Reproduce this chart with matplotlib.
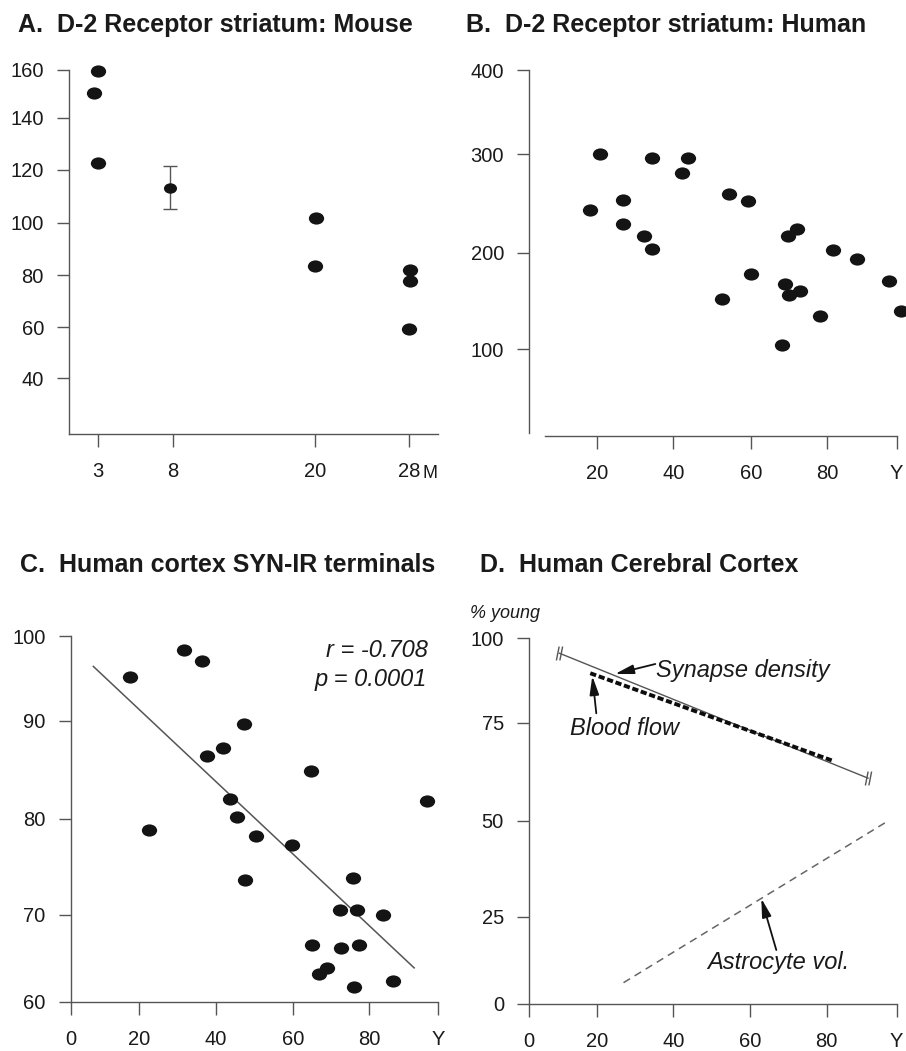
import numpy as np
import matplotlib
matplotlib.use("Agg")
import matplotlib.pyplot as plt
from matplotlib.path import Path
from matplotlib.transforms import Affine2D

plt.rcParams['font.family'] = ['Liberation Sans', 'DejaVu Sans']

# ---------------- data ----------------
# A. D-2 receptor, mouse striatum (age in months)
mouse_age = [3.0, 2.7, 3.0, 20.1, 20.0, 28.1, 28.1, 28.0]
mouse_binding = [159.4, 150.2, 122.6, 101.8, 83.6, 82.0, 77.8, 59.3]
mouse_mean_age = [7.8]
mouse_mean_binding = [113.2]
mouse_sem = [8.2]

# B. D-2 receptor, human striatum (age in years)
human_age = [18.2, 20.8, 26.9, 26.9, 32.3, 34.4, 34.4, 42.2, 43.7, 52.6, 54.4, 59.3,
             59.9, 68.1, 68.9, 69.8, 69.9, 72.1, 72.9, 78.2, 81.7, 88.6, 97.9, 101.2]
human_binding = [243.5, 300.0, 253.3, 228.9, 217.1, 295.9, 203.6, 281.3, 295.9, 151.8,
                 260.0, 252.9, 178.0, 104.0, 167.3, 217.1, 156.5, 223.9, 160.4, 134.4,
                 203.1, 193.3, 171.1, 139.6]

# C. Human cortex SYN-IR terminals
cortex_age = [17.3, 22.6, 31.7, 36.4, 37.7, 41.7, 43.7, 45.6, 47.2, 47.6, 50.4, 59.7,
              64.9, 65.0, 66.9, 68.9, 72.4, 72.5, 75.7, 76.9, 77.2, 75.9, 83.9, 86.8, 96.8]
cortex_syn = [95.1, 78.9, 98.3, 97.0, 86.4, 87.2, 82.0, 80.2, 89.6, 73.6, 78.2, 77.3,
              84.9, 66.5, 63.2, 63.9, 70.5, 66.2, 73.9, 70.5, 66.5, 61.7, 70.0, 62.4, 81.8]
cortex_fit_age = [6.6, 93.0]
cortex_fit_syn = [96.4, 63.9]
cortex_stats = ["r = -0.708", "p = 0.0001"]

# D. Human cerebral cortex (% young)
synapse_age = [9.0, 91.8]
synapse_pct = [95.5, 60.9]
blood_age = [18.1, 81.8]
blood_pct = [89.6, 65.3]
astro_age = [27.0, 97.5]
astro_pct = [6.0, 50.0]

# ticks
a_xticks = [3, 8, 20, 28]
a_xlabels = ['3', '8', '20', '28']
a_yticks = [40, 60, 80, 100, 120, 140, 160]
b_xticks = [20, 40, 60, 80, 100]
b_xlabels = ['20', '40', '60', '80', 'Y']
b_yticks = [100, 200, 300, 400]
c_xticks = [0, 20, 40, 60, 80, 100]
c_xlabels = ['0', '20', '40', '60', '80', 'Y']
c_yticks = [60, 70, 80, 90, 100]
d_xticks = [0, 20, 40, 60, 80, 100]
d_xlabels = ['0', '20', '40', '60', '80', 'Y']
d_yticks = [0, 25, 50, 75, 100]

# ---------------- layout (pixels) ----------------
W, H = 906, 1051
a_xpix = [98.3, 172.7, 315.0, 409.0]
a_ypix = [378.3, 327.3, 275.2, 222.5, 169.7, 117.5, 69.5]
b_xpix = [596.7, 673.3, 751.0, 827.3, 896.7]
b_ypix = [349.2, 252.8, 154.3, 70.3]
c_xpix = [70.7, 139.3, 216.0, 292.7, 369.3, 438.3]
c_ypix = [1001.7, 915.0, 819.0, 720.5, 636.0]
d_xpix = [529.0, 596.7, 673.3, 750.0, 826.7, 896.7]
d_ypix = [1003.5, 916.7, 821.0, 722.7, 638.0]

AXC = '#555555'
TXT = '#1a1a1a'
DOT = '#141414'

ellipse = Affine2D().scale(1.0, 0.8).transform_path(Path.unit_circle())
breakmark = Path([(-0.45, -1), (-0.05, 1), (0.05, -1), (0.45, 1)],
                 [Path.MOVETO, Path.LINETO, Path.MOVETO, Path.LINETO])


def piecewise(vals, pix):
    v = np.asarray(vals, float)
    p = np.asarray(pix, float)
    o = np.argsort(v)
    v, p = v[o], p[o]
    s0 = (p[1] - p[0]) / (v[1] - v[0])
    s1 = (p[-1] - p[-2]) / (v[-1] - v[-2])

    def fwd(x):
        x = np.asarray(x, float)
        return np.where(x < v[0], p[0] + (x - v[0]) * s0,
                        np.where(x > v[-1], p[-1] + (x - v[-1]) * s1, np.interp(x, v, p)))

    def inv(y):
        y = np.asarray(y, float)
        return np.where(y < p[0], v[0] + (y - p[0]) / s0,
                        np.where(y > p[-1], v[-1] + (y - p[-1]) / s1, np.interp(y, p, v)))
    return fwd, inv


fig = plt.figure(figsize=(W / 100, H / 100), dpi=100)


def make_axes(box, xt, xpix, xl, yt, ypix):
    l, r, t, b = box
    ax = fig.add_axes([l / W, (H - b) / H, (r - l) / W, (b - t) / H])
    fx, ix = piecewise(xt, xpix)
    fy, iy = piecewise(yt, [H - p for p in ypix])
    ax.set_xscale('function', functions=(fx, ix))
    ax.set_yscale('function', functions=(fy, iy))
    ax.set_xlim(float(ix(l)), float(ix(r)))
    ax.set_ylim(float(iy(H - b)), float(iy(H - t)))
    ax.set_xticks(xt, xl)
    ax.set_yticks(yt, [str(v) for v in yt])
    ax.minorticks_off()
    for s in ['top', 'right']:
        ax.spines[s].set_visible(False)
    for s in ['left', 'bottom']:
        ax.spines[s].set_color(AXC)
        ax.spines[s].set_linewidth(1.0)
    ax.tick_params(axis='both', direction='out', length=9, width=1.0, color=AXC,
                   labelsize=14.5, labelcolor=TXT)
    ax.tick_params(axis='y', pad=9.0)
    ax.tick_params(axis='x', pad=11.5)
    ax.patch.set_alpha(0)
    return ax, ix, iy


def ftext(x, y, s, **kw):
    fig.text(x / W, 1 - y / H, s, color=TXT, **kw)


MS = 11.0

# ---------------- A ----------------
axA, _, _ = make_axes((69, 438, 69.5, 434), a_xticks, a_xpix, a_xlabels, a_yticks, a_ypix)
axA.plot(mouse_age, mouse_binding, ls='none', marker=ellipse, ms=MS, mfc=DOT, mec=DOT,
         mew=0, clip_on=False)
axA.errorbar(mouse_mean_age, mouse_mean_binding, yerr=mouse_sem, fmt='none', ecolor=AXC,
             elinewidth=1.0, capsize=5, capthick=1.0)
axA.plot(mouse_mean_age, mouse_mean_binding, ls='none', marker=ellipse, ms=9.4, mfc=DOT,
         mec=DOT, mew=0)
ftext(423, 477.5, 'M', fontsize=13, va='baseline', ha='left')
ftext(18, 32, 'A.  D-2 Receptor striatum: Mouse', fontsize=18, weight='bold', va='baseline')

# ---------------- B ----------------
axB, ixB, iyB = make_axes((529, 898, 70.3, 436), b_xticks, b_xpix, b_xlabels, b_yticks, b_ypix)
axB.spines['left'].set_bounds(float(iyB(H - 433)), 400)
axB.spines['bottom'].set_bounds(float(ixB(545)), 100)
axB.plot(human_age, human_binding, ls='none', marker=ellipse, ms=MS, mfc=DOT, mec=DOT,
         mew=0, clip_on=False)
ftext(466.3, 32, 'B.  D-2 Receptor striatum: Human', fontsize=18, weight='bold', va='baseline')

# ---------------- C ----------------
axC, _, _ = make_axes((70.7, 438.3, 636, 1001.7), c_xticks, c_xpix, c_xlabels, c_yticks, c_ypix)
axC.plot(cortex_fit_age, cortex_fit_syn, color=AXC, lw=1.1)
axC.plot(cortex_age, cortex_syn, ls='none', marker=ellipse, ms=MS, mfc=DOT, mec=DOT,
         mew=0, clip_on=False)
ftext(427.7, 657.3, cortex_stats[0], fontsize=17, style='italic', ha='right', va='baseline')
ftext(426.7, 685.7, cortex_stats[1], fontsize=17, style='italic', ha='right', va='baseline')
ftext(20, 572.3, 'C.  Human cortex SYN-IR terminals', fontsize=18, weight='bold', va='baseline')

# ---------------- D ----------------
axD, _, _ = make_axes((529, 896.7, 638, 1003.5), d_xticks, d_xpix, d_xlabels, d_yticks, d_ypix)
axD.plot(synapse_age, synapse_pct, color=AXC, lw=1.0)
axD.plot(synapse_age, synapse_pct, ls='none', marker=breakmark, ms=10, mfc='none', mec=AXC, mew=1.0)
axD.plot(blood_age, blood_pct, color='#0d0d0d', lw=2.8, ls=(0, (1.6, 0.7)), dash_capstyle='butt')
axD.plot(astro_age, astro_pct, color='#666666', lw=1.1, ls=(0, (5, 3.5)))
ftext(469.7, 618.3, '% young', fontsize=13, style='italic', va='baseline')
ftext(656.3, 677.3, 'Synapse density', fontsize=17, style='italic', va='baseline')
ftext(569.7, 735.0, 'Blood flow', fontsize=17, style='italic', va='baseline')
ftext(707.0, 969.3, 'Astrocyte vol.', fontsize=17, style='italic', va='baseline')

aprops = dict(arrowstyle='-|>,head_length=0.8,head_width=0.2', color='#111111', lw=1.3,
              mutation_scale=14, shrinkA=0, shrinkB=0)
for tail, tip in [((655.3, 664.0), (615.0, 674.0)),
                  ((596.3, 713.3), (592.3, 676.0)),
                  ((776.3, 950.0), (761.3, 898.5))]:
    axD.annotate('', xy=(tip[0], H - tip[1]), xycoords='figure pixels',
                 xytext=(tail[0], H - tail[1]), textcoords='figure pixels',
                 arrowprops=aprops)
ftext(479.7, 572.3, 'D.  Human Cerebral Cortex', fontsize=18, weight='bold', va='baseline')

fig.savefig('out.png', dpi=100)
